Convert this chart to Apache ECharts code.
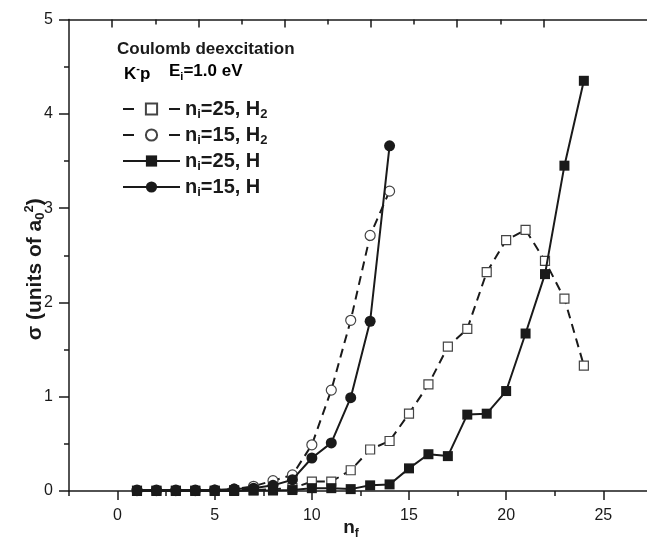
<!DOCTYPE html>
<html><head><meta charset="utf-8">
<script src="https://cdn.jsdelivr.net/npm/echarts@6/dist/echarts.min.js"></script>
<style>html,body{margin:0;padding:0;background:#fff}#c{width:647px;height:541px}</style>
</head><body><div id="c"></div>
<script>
// ---- data ----
const nfCircles = [1,2,3,4,5,6,7,8,9,10,11,12,13,14];
const nfSquares = [1,2,3,4,5,6,7,8,9,10,11,12,13,14,15,16,17,18,19,20,21,22,23,24];
const sigma25H2 = [0.005,0.005,0.005,0.005,0.005,0.01,0.01,0.02,0.03,0.10,0.10,0.22,0.44,0.53,0.82,1.13,1.53,1.72,2.32,2.66,2.77,2.44,2.04,1.33];
const sigma15H2 = [0.005,0.005,0.005,0.005,0.01,0.02,0.05,0.11,0.17,0.49,1.07,1.81,2.71,3.18];
const sigma25H  = [0,0,0,0,0,0,0.005,0.005,0.01,0.03,0.03,0.02,0.06,0.07,0.24,0.39,0.37,0.81,0.82,1.06,1.67,2.30,3.45,4.35];
const sigma15H  = [0.01,0.01,0.01,0.01,0.01,0.02,0.03,0.06,0.12,0.35,0.51,0.99,1.80,3.66];
const xMajorTicks = [0,5,10,15,20,25];
const xMinorTicks = [-2.5,2.5,7.5,12.5,17.5,22.5];
const topLongTicks = [1,3,5,7,9,11];
const topShortTicks = [2,4,6,8,10];
const legendNames = ['n_i=25, H2','n_i=15, H2','n_i=25, H','n_i=15, H'];
const legendLabels = {
  'n_i=25, H2': '{b|n}{s|i}{b|=25, H}{s|2}',
  'n_i=15, H2': '{b|n}{s|i}{b|=15, H}{s|2}',
  'n_i=25, H':  '{b|n}{s|i}{b|=25, H}',
  'n_i=15, H':  '{b|n}{s|i}{b|=15, H}'
};

// ---- styling ----
const FONT = '"Liberation Sans", Arial, Helvetica, sans-serif';
const INK = '#1a1a1a';
const axisLineStyle = {color: INK, width: 1.5};
function pts(xs, ys) { return xs.map((x, i) => [x, ys[i]]); }
function richSet(main, sub, lh) {
  return {
    b: {fontFamily: FONT, fontWeight: 'bold', fontSize: main, lineHeight: lh, color: INK},
    s: {fontFamily: FONT, fontWeight: 'bold', fontSize: sub, lineHeight: sub, verticalAlign: 'bottom', color: INK},
    p: {fontFamily: FONT, fontWeight: 'bold', fontSize: sub, lineHeight: sub, verticalAlign: 'top', color: INK}
  };
}

const chart = echarts.init(document.getElementById('c'), null, {renderer: 'canvas'});
const openItem = {color: '#fff', borderColor: '#444', borderWidth: 1.2};
const filledItem = {color: INK, borderColor: INK, borderWidth: 0};
const legendDash = [11, 12, 11, 12, 11];
const legendRowCenters = [106, 132, 158, 184];
const LEG_LH = 24;

const legends = legendNames.map((n, k) => ({
  orient: 'vertical', left: 117, top: legendRowCenters[k] - LEG_LH / 2,
  itemWidth: 57, itemHeight: 14, itemGap: 0, selectedMode: false,
  data: [k < 2 ? {name: n, lineStyle: {type: legendDash}} : {name: n}],
  formatter: nm => legendLabels[nm],
  textStyle: {fontSize: 20, fontWeight: 'bold', fontFamily: FONT, color: INK, rich: richSet(20, 13, LEG_LH)}
}));

chart.setOption({
  animation: false,
  backgroundColor: '#fff',
  grid: {left: 69, right: 0, top: 19.5, bottom: 50, containLabel: false, outerBoundsMode: 'none'},
  xAxis: [
    {type: 'value', position: 'bottom', min: -2.5, max: 27.25,
     axisLine: {show: true, onZero: false, lineStyle: axisLineStyle},
     axisTick: {show: true, inside: false, length: 9, customValues: xMajorTicks, lineStyle: axisLineStyle},
     axisLabel: {show: true, customValues: xMajorTicks, fontSize: 16, fontFamily: FONT, color: INK, margin: 17},
     splitLine: {show: false},
     name: '{b|n}{s|f}', nameLocation: 'middle', nameGap: 25, nameMoveOverlap: false,
     nameTextStyle: {rich: richSet(19, 12, 24), padding: [0, 14, 0, 0]}},
    {type: 'value', position: 'bottom', min: -2.5, max: 27.25,
     axisLine: {show: false, onZero: false},
     axisTick: {show: true, inside: false, length: 5, customValues: xMinorTicks, lineStyle: axisLineStyle},
     axisLabel: {show: false}, splitLine: {show: false}},
    {type: 'value', position: 'top', min: 0, max: 13.4,
     axisLine: {show: true, onZero: false, lineStyle: axisLineStyle},
     axisTick: {show: true, inside: true, length: 8, customValues: topLongTicks, lineStyle: axisLineStyle},
     axisLabel: {show: false}, splitLine: {show: false}},
    {type: 'value', position: 'top', min: 0, max: 13.4,
     axisLine: {show: false, onZero: false},
     axisTick: {show: true, inside: true, length: 5, customValues: topShortTicks, lineStyle: axisLineStyle},
     axisLabel: {show: false}, splitLine: {show: false}}
  ],
  yAxis: {
    type: 'value', min: 0, max: 5, interval: 1,
    axisLine: {show: true, onZero: false, lineStyle: axisLineStyle},
    axisTick: {show: true, inside: false, length: 10, lineStyle: axisLineStyle},
    minorTick: {show: true, splitNumber: 2, length: 5, lineStyle: axisLineStyle},
    axisLabel: {fontSize: 16, fontFamily: FONT, color: INK, margin: 16},
    splitLine: {show: false}, minorSplitLine: {show: false},
    name: '{b|σ (units of a}{s|0}{p|2}{b|)}', nameLocation: 'middle', nameGap: 22, nameRotate: 90,
    nameMoveOverlap: false,
    nameTextStyle: {rich: richSet(21, 13, 24), padding: [0, 28, 0, 0]}
  },
  legend: legends,
  graphic: [
    {type: 'text', left: 117, top: 41,
     style: {text: 'Coulomb deexcitation', fontSize: 17, fontWeight: 'bold', fontFamily: FONT, fill: INK}},
    {type: 'text', left: 124, top: 63,
     style: {text: '{b|K}{p|-}{b|p}', rich: richSet(17, 11, 22)}},
    {type: 'text', left: 169, top: 63,
     style: {text: '{b|E}{s|i}{b|=1.0 eV}', rich: richSet(17, 11, 22)}}
  ],
  series: [
    {type: 'line', name: legendNames[0], xAxisIndex: 0, data: pts(nfSquares, sigma25H2),
     symbol: 'rect', symbolSize: 9, lineStyle: {color: INK, width: 2, type: [9, 6]}, itemStyle: openItem, z: 2},
    {type: 'line', name: legendNames[1], xAxisIndex: 0, data: pts(nfCircles, sigma15H2),
     symbol: 'circle', symbolSize: 10, lineStyle: {color: INK, width: 2, type: [9, 6]}, itemStyle: openItem, z: 3},
    {type: 'line', name: legendNames[2], xAxisIndex: 0, data: pts(nfSquares, sigma25H),
     symbol: 'rect', symbolSize: 10, lineStyle: {color: INK, width: 2}, itemStyle: filledItem, z: 4},
    {type: 'line', name: legendNames[3], xAxisIndex: 0, data: pts(nfCircles, sigma15H),
     symbol: 'circle', symbolSize: 11, lineStyle: {color: INK, width: 2}, itemStyle: filledItem, z: 5}
  ]
});
</script>
</body></html>
